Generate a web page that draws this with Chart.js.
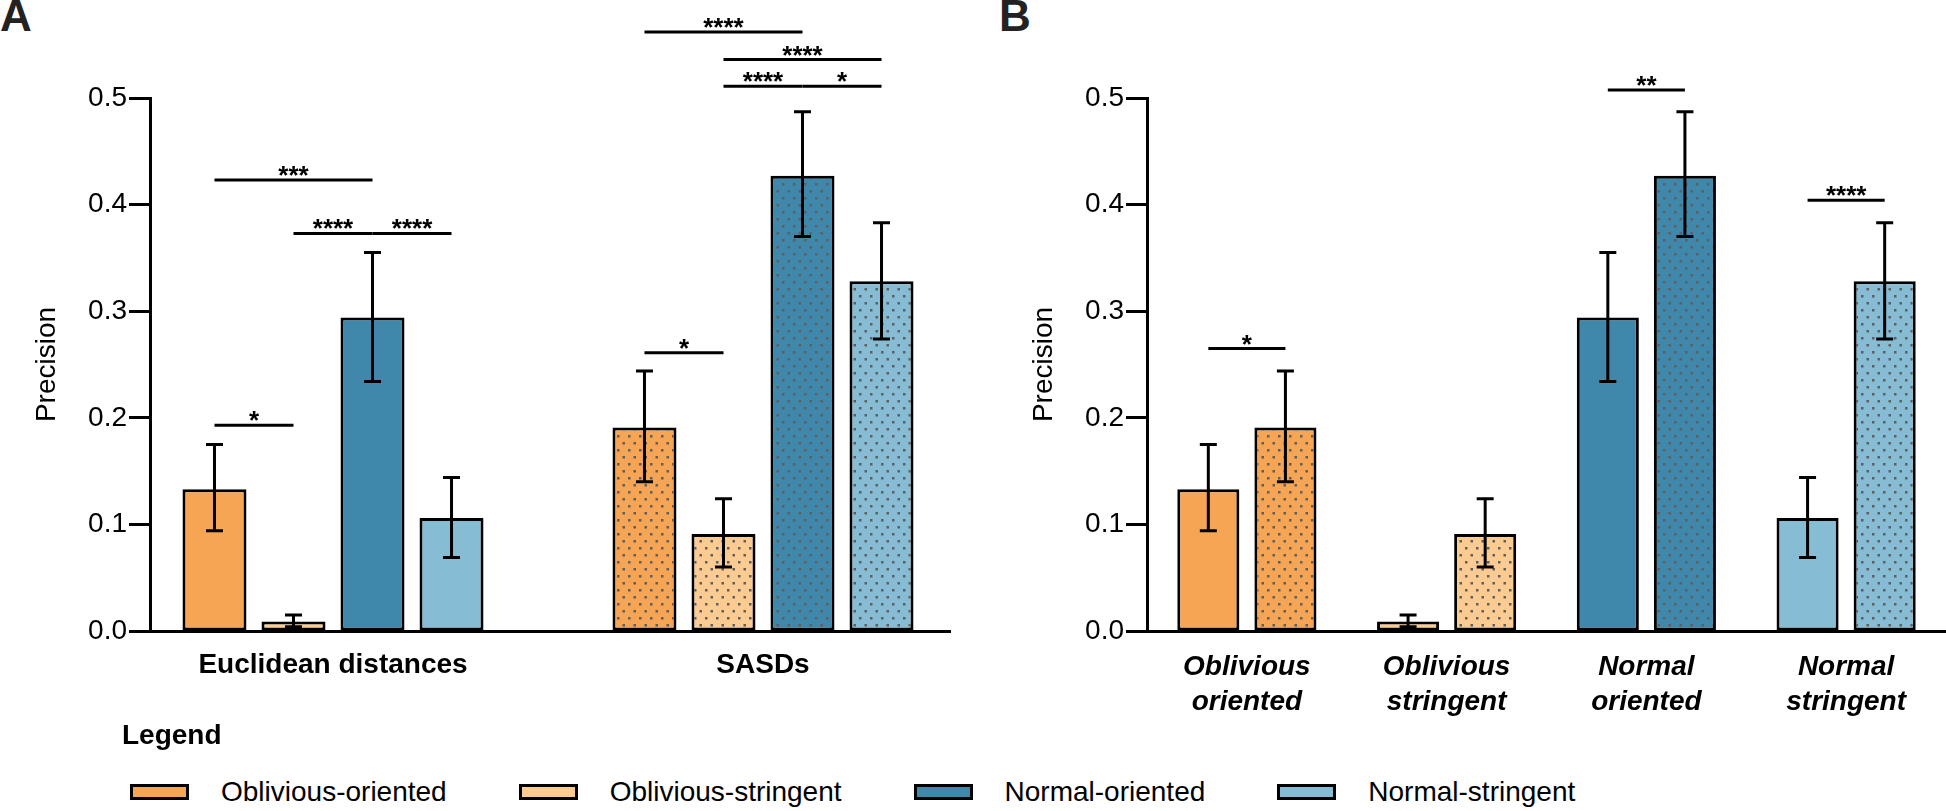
<!DOCTYPE html>
<html>
<head>
<meta charset="utf-8">
<script src="https://cdn.jsdelivr.net/npm/chart.js@4.4.0/dist/chart.umd.min.js"></script>
<style>
  body { margin: 0; width: 1946px; height: 811px; background: #fff; overflow: hidden; position: relative; font-family: "Liberation Sans", Arial, sans-serif; }
  canvas { position: absolute; top: 0; }
  #chartA { left: 0; }
  #chartB { left: 980px; }
  .panel { position: absolute; top: -6px; font-weight: bold; font-size: 44px; line-height: 44px; color: #222; }
  #legendTitle { position: absolute; left: 122px; top: 718px; font-weight: bold; font-size: 28px; line-height: 34px; }
  #legend { position: absolute; left: 130px; top: 775px; display: flex; align-items: center; font-size: 28px; line-height: 34px; }
  .item { display: flex; align-items: center; margin-right: 72px; }
  .box { width: 53px; height: 10px; border: 3px solid #000; margin-right: 32px; }
</style>
</head>
<body>
<div class="panel" style="left:0">A</div>
<div class="panel" style="left:999px">B</div>
<canvas id="chartA" width="980" height="720"></canvas>
<canvas id="chartB" width="966" height="720"></canvas>
<div id="legendTitle">Legend</div>
<div id="legend"></div>
<script>
// categories
const groups = ['Euclidean distances', 'SASDs'];
const conditions = ['Oblivious-oriented', 'Oblivious-stringent', 'Normal-oriented', 'Normal-stringent'];
const conditionLabels = [['Oblivious', 'oriented'], ['Oblivious', 'stringent'], ['Normal', 'oriented'], ['Normal', 'stringent']];

// precision (mean, lower and upper error)
const euclidMean = [0.133, 0.009, 0.294, 0.106];
const euclidLow = [0.094, 0.004, 0.234, 0.069];
const euclidHigh = [0.175, 0.015, 0.355, 0.144];
const sasdMean = [0.191, 0.091, 0.427, 0.328];
const sasdLow = [0.140, 0.060, 0.370, 0.274];
const sasdHigh = [0.244, 0.124, 0.487, 0.383];

// significance brackets: group / condition a / condition b / height / stars
const bracketsA = [
    { cat: 0, a: 0, b: 1, y: 0.193, text: '*' },
    { cat: 0, a: 0, b: 2, y: 0.423, text: '***' },
    { cat: 0, a: 1, b: 2, y: 0.373, text: '****' },
    { cat: 0, a: 2, b: 3, y: 0.373, text: '****' },
    { cat: 1, a: 0, b: 1, y: 0.261, text: '*' },
    { cat: 1, a: 0, b: 2, y: 0.562, text: '****' },
    { cat: 1, a: 1, b: 3, y: 0.536, text: '****' },
    { cat: 1, a: 1, b: 2, y: 0.511, text: '****' },
    { cat: 1, a: 2, b: 3, y: 0.511, text: '*' }
];
const bracketsB = [
    { cat: 0, a: 0, b: 1, y: 0.265, text: '*' },
    { cat: 2, a: 0, b: 1, y: 0.5075, text: '**' },
    { cat: 3, a: 0, b: 1, y: 0.404, text: '****' }
];

const colors = ['#F5A553', '#FBCB92', '#3F88AC', '#86BDD5'];
const FONT = '"Liberation Sans", Arial, sans-serif';

function dotted(color) {
    const c = document.createElement('canvas');
    c.width = 11; c.height = 14;
    const x = c.getContext('2d');
    x.fillStyle = color;
    x.fillRect(0, 0, 11, 14);
    x.fillStyle = '#5e5e5e';
    x.fillRect(1, 1, 2.5, 2.5);
    x.fillRect(6.5, 8, 2.5, 2.5);
    return x.createPattern(c, 'repeat');
}
const patterns = colors.map(dotted);

// error bars on top of each bar
const errorBars = {
    id: 'errorBars',
    afterDatasetsDraw(chart) {
        const ctx = chart.ctx;
        const y = chart.scales.y;
        ctx.save();
        ctx.strokeStyle = '#000';
        ctx.lineWidth = 3;
        chart.data.datasets.forEach((ds, i) => {
            chart.getDatasetMeta(i).data.forEach((bar, j) => {
                const top = y.getPixelForValue(ds.errHigh[j]);
                const bot = y.getPixelForValue(ds.errLow[j]);
                ctx.beginPath();
                ctx.moveTo(bar.x, top); ctx.lineTo(bar.x, bot);
                ctx.moveTo(bar.x - 8.5, top); ctx.lineTo(bar.x + 8.5, top);
                ctx.moveTo(bar.x - 8.5, bot); ctx.lineTo(bar.x + 8.5, bot);
                ctx.stroke();
            });
        });
        ctx.restore();
    }
};

function bracketPlugin(list) {
    return {
        id: 'brackets',
        afterDatasetsDraw(chart) {
            const ctx = chart.ctx;
            const y = chart.scales.y;
            ctx.save();
            ctx.strokeStyle = '#000';
            ctx.fillStyle = '#000';
            ctx.lineWidth = 3;
            ctx.font = 'bold 26px ' + FONT;
            ctx.textAlign = 'center';
            ctx.textBaseline = 'alphabetic';
            list.forEach(b => {
                const x1 = chart.getDatasetMeta(b.a).data[b.cat].x;
                const x2 = chart.getDatasetMeta(b.b).data[b.cat].x;
                const py = y.getPixelForValue(b.y);
                ctx.beginPath();
                ctx.moveTo(x1, py); ctx.lineTo(x2, py);
                ctx.stroke();
                ctx.fillText(b.text, (x1 + x2) / 2, py + 4);
            });
            ctx.restore();
        }
    };
}

function yAxis(width, titlePad) {
    return {
        min: 0,
        max: 0.5,
        ticks: { stepSize: 0.1, color: '#000', padding: 2, font: { size: 28, family: FONT }, callback: v => v.toFixed(1) },
        grid: { drawOnChartArea: false, color: '#000', tickLength: 21, tickWidth: 3 },
        border: { color: '#000', width: 3 },
        title: { display: true, text: 'Precision', color: '#000', font: { size: 28, family: FONT }, padding: { top: titlePad, bottom: 0 } },
        afterFit: s => { s.width = width; }
    };
}

Chart.defaults.font.family = FONT;

// Panel A: groups on the x axis, one dataset per condition
new Chart(document.getElementById('chartA'), {
    type: 'bar',
    data: {
        datasets: conditions.map((name, i) => ({
            label: name,
            data: [{ x: 0, y: euclidMean[i] }, { x: 1, y: sasdMean[i] }],
            errLow: [euclidLow[i], sasdLow[i]],
            errHigh: [euclidHigh[i], sasdHigh[i]],
            backgroundColor: [colors[i], patterns[i]],
            borderColor: '#000',
            borderWidth: 3,
            borderSkipped: false,
            categoryPercentage: 0.735,
            barPercentage: 0.81
        }))
    },
    options: {
        responsive: false,
        animation: false,
        layout: { padding: { top: 98, right: 30, left: 0, bottom: 0 } },
        plugins: { legend: { display: false }, tooltip: { enabled: false } },
        scales: {
            x: {
                type: 'linear',
                offset: false,
                min: -0.4256,
                max: 1.4349,
                afterBuildTicks: s => { s.ticks = groups.map((g, i) => ({ value: i })); },
                ticks: { callback: v => groups[v], color: '#000', padding: 17, autoSkip: false, maxRotation: 0, font: { size: 28, weight: 'bold', family: FONT } },
                grid: { display: false, drawTicks: false },
                border: { color: '#000', width: 3 },
                afterFit: s => { s.height = 89; }
            },
            y: yAxis(150, 30)
        }
    },
    plugins: [errorBars, bracketPlugin(bracketsA)]
});

// Panel B: conditions on the x axis, Euclidean (solid) vs SASDs (dotted)
new Chart(document.getElementById('chartB'), {
    type: 'bar',
    data: {
        labels: conditionLabels,
        datasets: [
            {
                label: groups[0],
                data: euclidMean,
                errLow: euclidLow,
                errHigh: euclidHigh,
                backgroundColor: colors
            },
            {
                label: groups[1],
                data: sasdMean,
                errLow: sasdLow,
                errHigh: sasdHigh,
                backgroundColor: patterns
            }
        ].map(ds => Object.assign(ds, {
            borderColor: '#000',
            borderWidth: 3,
            borderSkipped: false,
            categoryPercentage: 0.772,
            barPercentage: 0.805
        }))
    },
    options: {
        responsive: false,
        animation: false,
        layout: { padding: { top: 98, right: 0, left: 0, bottom: 0 } },
        plugins: { legend: { display: false }, tooltip: { enabled: false } },
        scales: {
            x: {
                ticks: { color: '#000', padding: 19, autoSkip: false, maxRotation: 0, font: { size: 28, weight: 'bold', style: 'italic', lineHeight: 1.25, family: FONT } },
                grid: { display: false, drawTicks: false },
                border: { color: '#000', width: 3 },
                afterFit: s => { s.height = 89; }
            },
            y: yAxis(167, 47)
        }
    },
    plugins: [errorBars, bracketPlugin(bracketsB)]
});

// legend
const legend = document.getElementById('legend');
conditions.forEach((name, i) => {
    const item = document.createElement('div');
    item.className = 'item';
    const box = document.createElement('div');
    box.className = 'box';
    box.style.background = colors[i];
    const txt = document.createElement('span');
    txt.textContent = name;
    item.appendChild(box);
    item.appendChild(txt);
    legend.appendChild(item);
});
</script>
</body>
</html>
